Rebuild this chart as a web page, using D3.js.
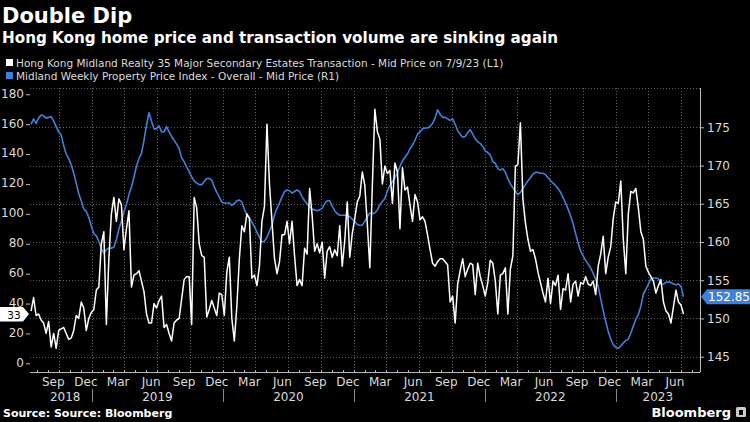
<!DOCTYPE html>
<html>
<head>
<meta charset="utf-8">
<script src="https://cdn.jsdelivr.net/npm/d3@7"></script>
<style>
  body { margin: 0; background: #000; }
  svg { display: block; font-family: "DejaVu Sans", sans-serif; }
</style>
</head>
<body>
<script>
// weekly readings, first week ending 2018-07-15, last 2023-07-09
const FIRST_WEEK = "2018-07-15";

const transactions = [
  35,44,32,33,29,27,20,28,11,20,
  10,22,23,24,20,16,17,22,32,30,
  41,37,22,30,34,36,49,51,80,88,
  26,70,100,111,95,110,106,76,90,102,
  51,59,60,62,55,48,33,27,27,40,
  37,42,45,24,26,20,15,27,29,30,
  43,56,58,58,26,111,104,80,72,71,
  31,36,42,37,32,47,46,32,61,71,
  30,15,38,70,92,88,100,97,57,59,
  52,65,95,105,160,120,95,70,60,68,
  86,86,95,80,95,72,52,56,52,77,
  73,117,99,75,80,74,81,57,75,78,
  71,76,72,92,65,82,108,71,87,97,
  108,112,128,119,93,64,119,170,155,150,
  120,132,127,129,107,134,128,90,131,116,
  118,106,95,113,108,96,98,95,86,76,
  67,65,68,70,70,68,66,41,45,27,
  53,62,70,58,63,67,66,46,67,58,
  52,45,54,69,67,55,33,59,60,64,
  33,63,72,132,133,161,110,94,83,75,
  76,70,61,54,47,41,57,40,55,52,
  59,36,50,49,60,41,53,55,45,54,
  53,58,53,52,55,46,65,73,85,60,
  71,78,97,108,107,122,83,60,100,115,
  114,117,104,88,83,65,61,58,55,47,
  52,56,41,35,33,27,38,49,41,39,
  33
];

const priceIndex = [
  175.4,176.1,175.5,176.2,176.6,176.5,176.2,176.3,176.4,175.8,
  175.1,174.4,174.0,172.6,171.5,170.9,170.1,169.0,167.7,166.3,
  165.4,164.3,164.0,163.2,162.1,161.1,160.8,160.1,159.1,158.6,
  159.0,159.2,159.2,159.3,160.3,161.7,162.7,164.0,164.9,166.2,
  167.2,168.5,169.9,170.9,171.6,173.3,175.3,176.9,175.8,174.8,
  174.8,175.2,174.4,174.4,175.1,174.4,173.8,173.3,172.8,172.2,
  171.0,170.5,169.8,169.2,168.5,168.0,167.7,167.5,167.5,167.9,
  168.3,168.3,168.1,167.2,166.5,165.9,165.2,165.1,165.1,165.1,
  164.8,165.0,165.4,165.5,165.2,164.3,163.5,163.2,162.6,162.0,
  161.3,160.6,160.0,160.1,160.6,161.4,162.2,163.5,164.4,165.1,
  165.9,166.6,166.8,166.7,166.4,166.6,166.8,166.6,165.9,165.4,
  165.0,164.6,164.3,164.2,164.1,164.2,164.4,165.0,165.4,165.4,
  164.7,164.1,163.7,163.5,163.5,163.5,163.5,163.3,163.0,162.7,
  162.3,162.2,162.2,162.7,163.3,163.8,163.7,163.8,164.2,164.9,
  165.3,165.7,166.7,167.4,167.9,168.4,169.1,169.9,170.6,171.1,
  171.5,172.2,172.7,173.3,174.1,174.4,174.8,174.9,174.9,175.1,
  175.5,176.2,177.3,176.7,176.3,176.3,176.1,175.9,176.1,175.4,
  174.6,174.1,173.7,173.8,174.3,174.7,174.1,173.5,173.1,172.9,
  172.5,171.9,171.7,171.4,170.5,170.3,169.6,169.4,169.6,169.1,
  168.3,167.6,167.1,166.6,166.2,166.5,167.0,167.5,168.0,168.4,
  168.9,169.1,169.1,169.0,169.0,168.8,168.4,168.0,167.7,167.4,
  167.0,166.5,165.8,165.1,164.3,163.4,162.4,161.1,159.9,158.8,
  158.2,157.6,157.1,156.6,155.9,155.1,154.2,152.6,151.0,149.6,
  148.3,147.3,146.6,146.2,146.1,146.4,146.8,147.1,147.3,148.1,
  149.0,149.9,150.5,151.6,153.2,153.8,154.5,155.2,155.3,155.3,
  155.2,154.5,154.5,154.7,154.8,154.7,154.5,154.4,154.5,154.2,
  152.85
];

const leftTicks = [0, 20, 40, 60, 80, 100, 120, 140, 160, 180];
const rightTicks = [145, 150, 155, 160, 165, 170, 175];
const monthNames = ["Mar", "Jun", "Sep", "Dec"];
const years = [2018, 2019, 2020, 2021, 2022, 2023];

const title = "Double Dip";
const subtitle = "Hong Kong home price and transaction volume are sinking again";
const legendNames = [
  "Hong Kong Midland Realty 35 Major Secondary Estates Transaction - Mid Price on 7/9/23 (L1)",
  "Midland Weekly Property Price Index - Overall - Mid Price (R1)"
];

const WHITE = "#ffffff";
const BLUE = "#3f80d8";
const GRID = "#5c5c5c";
const TEXT = "#dadada";

const W = 750, H = 422;
const plotL = 30, plotR = 700, plotT = 88, plotB = 372;

const parse = d3.timeParse("%Y-%m-%d");
const start = parse(FIRST_WEEK);
const weeks = transactions.map((d, i) => d3.timeDay.offset(start, 7 * i));

const x = d3.scaleTime()
  .domain([parse("2018-07-12"), parse("2023-08-24")])
  .range([plotL, plotR]);
const yL = d3.scaleLinear().domain([-5.8, 184.2]).range([plotB, plotT]);
const yR = d3.scaleLinear().domain([143.0, 180.14]).range([plotB, plotT]);

const svg = d3.select("body").append("svg")
  .attr("width", W).attr("height", H)
  .style("background", "#000");

// titles
svg.append("text").attr("x", 2).attr("y", 23)
  .attr("fill", WHITE).attr("font-size", 21).attr("font-weight", "bold")
  .text(title);
svg.append("text").attr("x", 2).attr("y", 43)
  .attr("fill", WHITE).attr("font-size", 15.2).attr("font-weight", "bold")
  .text(subtitle);

// legend
[WHITE, BLUE].forEach((c, i) => {
  svg.append("rect").attr("x", 6).attr("y", 59 + i * 13)
    .attr("width", 7).attr("height", 7).attr("fill", c);
  svg.append("text").attr("x", 16).attr("y", 66.5 + i * 13)
    .attr("fill", TEXT).attr("font-size", 10.5)
    .text(legendNames[i]);
});

// grid
const grid = svg.append("g").attr("stroke", GRID)
  .attr("stroke-dasharray", "1,2").attr("stroke-width", 1);
grid.selectAll(".h").data(rightTicks).join("line")
  .attr("x1", plotL).attr("x2", plotR)
  .attr("y1", d => Math.round(yR(d)) + 0.5).attr("y2", d => Math.round(yR(d)) + 0.5);
grid.append("line").attr("x1", plotL).attr("x2", plotR)
  .attr("y1", plotT + 0.5).attr("y2", plotT + 0.5);
const quarterStarts = d3.timeMonth.range(x.domain()[0], x.domain()[1])
  .filter(d => d.getMonth() % 3 === 0);
grid.selectAll(".v").data(quarterStarts).join("line")
  .attr("x1", d => Math.round(x(d)) + 0.5).attr("x2", d => Math.round(x(d)) + 0.5)
  .attr("y1", plotT).attr("y2", plotB);

// left axis
const la = svg.append("g").attr("transform", `translate(${plotL},0)`)
  .call(d3.axisLeft(yL).tickValues(leftTicks).tickSize(4).tickPadding(2));
la.select(".domain").remove();
la.selectAll("line").attr("stroke", "#bbb");
la.selectAll("text").attr("fill", TEXT).attr("font-size", 12)
  .attr("font-family", "DejaVu Sans").attr("dy", "0.24em");

// right axis
const ra = svg.append("g").attr("transform", `translate(${plotR},0)`)
  .call(d3.axisRight(yR).tickValues(rightTicks).tickSize(4).tickPadding(3));
ra.select(".domain").attr("stroke", "#bbb")
  .attr("d", `M0.5,${plotT}V${plotB}`);
ra.selectAll("line").attr("stroke", "#bbb");
ra.selectAll("text").attr("fill", TEXT).attr("font-size", 12)
  .attr("font-family", "DejaVu Sans");

// bottom axis: line, monthly ticks, quarter labels, year labels
svg.append("line").attr("x1", plotL).attr("x2", plotR)
  .attr("y1", plotB + 0.5).attr("y2", plotB + 0.5).attr("stroke", "#bbb");
const months = d3.timeMonth.range(x.domain()[0], x.domain()[1]);
svg.selectAll(".mt").data(months).join("line")
  .attr("x1", d => Math.round(x(d)) + 0.5).attr("x2", d => Math.round(x(d)) + 0.5)
  .attr("y1", plotB - 2).attr("y2", plotB).attr("stroke", "#bbb");
const labelMonths = months.filter(d => d.getMonth() % 3 === 2);
svg.selectAll(".ml").data(labelMonths).join("text")
  .attr("x", d => x(d3.timeDay.offset(d, 14)))
  .attr("y", 386).attr("text-anchor", "middle")
  .attr("fill", TEXT).attr("font-size", 12)
  .text(d => monthNames[(d.getMonth() - 2) / 3]);

years.forEach(yr => {
  const a = Math.max(x(new Date(yr, 0, 1)), x(labelMonths[0]) - 10);
  const b = Math.min(x(new Date(yr + 1, 0, 1)), plotR);
  svg.append("text").attr("x", (a + b) / 2).attr("y", 401)
    .attr("text-anchor", "middle").attr("fill", TEXT).attr("font-size", 12)
    .text(yr);
  if (yr > 2018) {
    const sx = Math.round(x(new Date(yr, 0, 1))) + 0.5;
    svg.append("line").attr("x1", sx).attr("x2", sx)
      .attr("y1", 389).attr("y2", 402).attr("stroke", "#888");
  }
});

// lines
const lineR = d3.line().x((d, i) => x(weeks[i])).y(d => yR(d));
const lineL = d3.line().x((d, i) => x(weeks[i])).y(d => yL(d));
svg.append("path").datum(priceIndex).attr("d", lineR)
  .attr("fill", "none").attr("stroke", BLUE).attr("stroke-width", 1.6)
  .attr("stroke-linejoin", "round");
svg.append("path").datum(transactions).attr("d", lineL)
  .attr("fill", "none").attr("stroke", WHITE).attr("stroke-width", 1.5)
  .attr("stroke-linejoin", "round");

// last value tags
const lastL = transactions[transactions.length - 1];
const lastR = priceIndex[priceIndex.length - 1];
const ly = yL(lastL);
svg.append("path")
  .attr("d", `M0,${ly - 7}H23L29,${ly}L23,${ly + 7.5}H0Z`)
  .attr("fill", WHITE);
svg.append("text").attr("x", 14).attr("y", ly + 5)
  .attr("text-anchor", "middle").attr("fill", "#000").attr("font-size", 10.5)
  .text(lastL);
const ry = yR(lastR);
svg.append("path")
  .attr("d", `M701,${ry}L707,${ry - 7.5}H750V${ry + 7.5}H707Z`)
  .attr("fill", BLUE);
svg.append("text").attr("x", 708).attr("y", ry + 4.5)
  .attr("fill", WHITE).attr("font-size", 12)
  .text(lastR.toFixed(2));

// footer
svg.append("text").attr("x", 3).attr("y", 417)
  .attr("fill", WHITE).attr("font-size", 11).attr("font-weight", "bold")
  .text("Source: Source: Bloomberg");
svg.append("text").attr("x", 731).attr("y", 417).attr("text-anchor", "end")
  .attr("fill", WHITE).attr("font-size", 13).attr("font-weight", "bold")
  .text("Bloomberg");
svg.append("rect").attr("x", 736).attr("y", 407).attr("width", 10).attr("height", 10)
  .attr("rx", 1.5).attr("fill", "#ccc");
svg.append("rect").attr("x", 739).attr("y", 410).attr("width", 4).attr("height", 5)
  .attr("fill", "#000");
</script>
</body>
</html>
